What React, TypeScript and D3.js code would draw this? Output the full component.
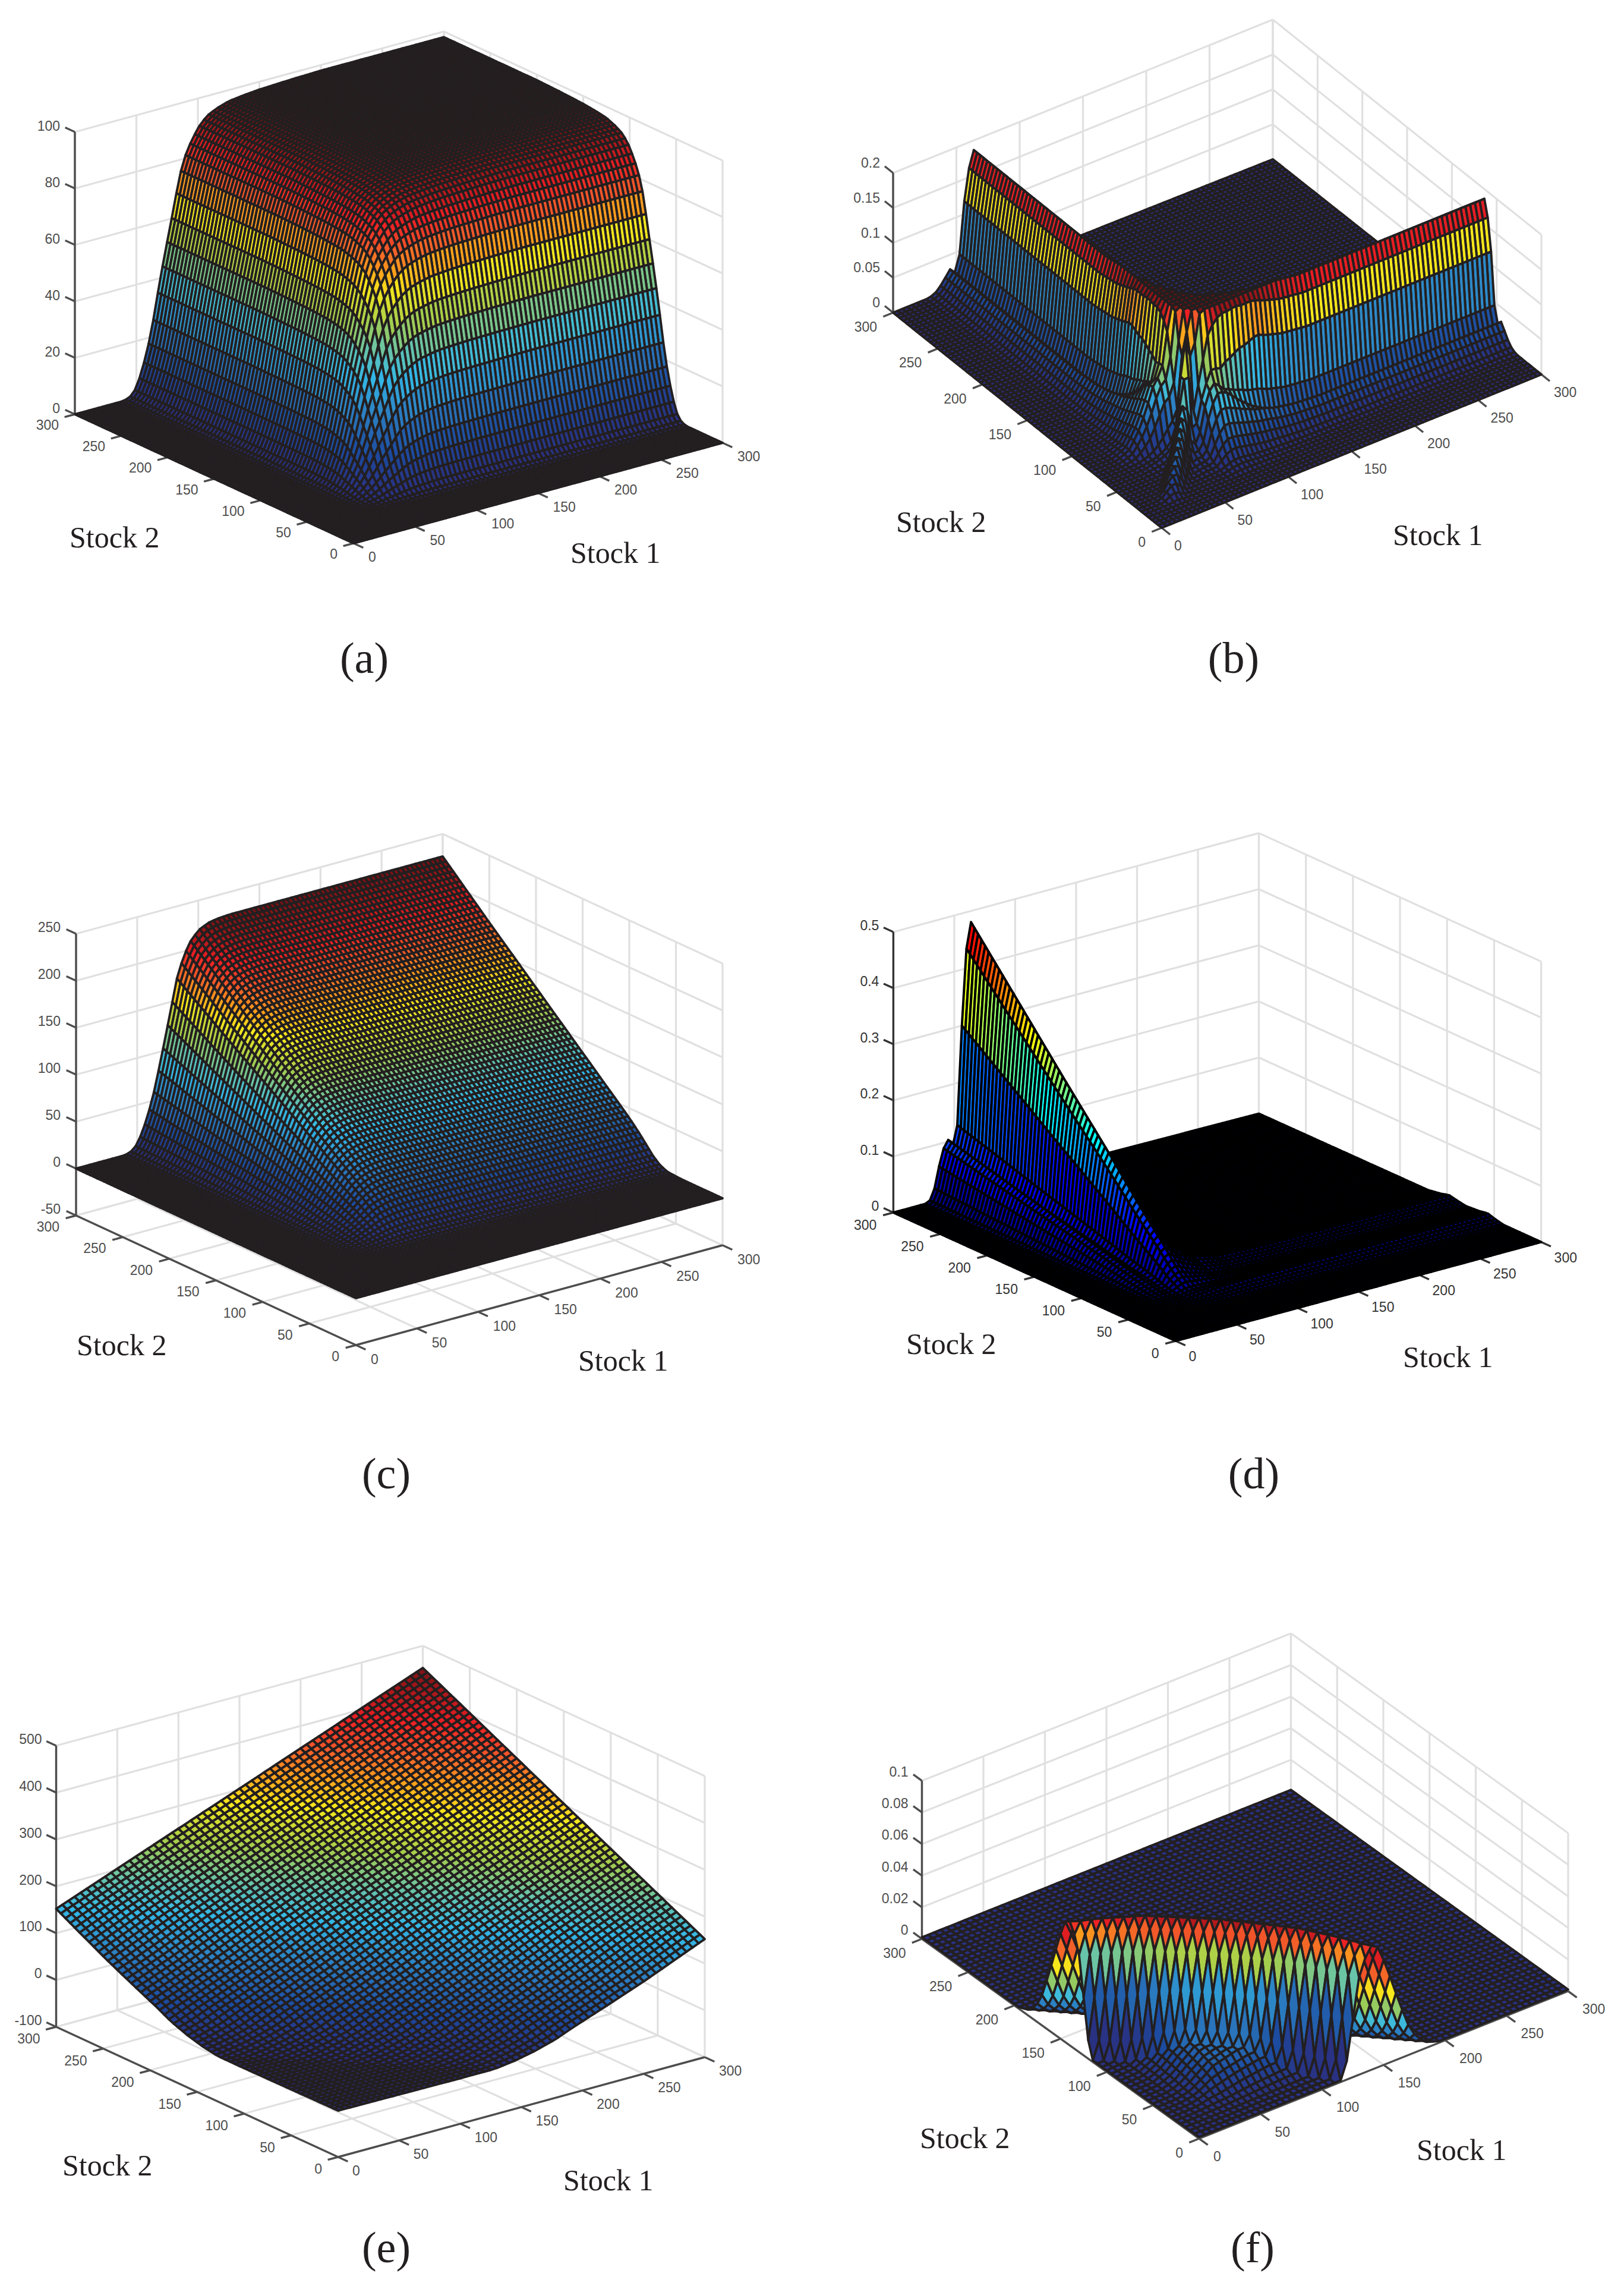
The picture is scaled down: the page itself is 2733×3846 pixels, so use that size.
import React, { useMemo } from "react";
import * as d3 from "d3";

// Surfaces are rebuilt from profiles read off the picture along the mesh edges and ridges.
const stockTicks = [0, 50, 100, 150, 200, 250, 300];
const zTicksA = [0, 20, 40, 60, 80, 100];
const zTicksB = [0, 0.05, 0.1, 0.15, 0.2];
const zTicksC = [-50, 0, 50, 100, 150, 200, 250];
const zTicksD = [0, 0.1, 0.2, 0.3, 0.4, 0.5];
const zTicksE = [-100, 0, 100, 200, 300, 400, 500];
const zTicksF = [0, 0.02, 0.04, 0.06, 0.08, 0.1];

// (a) rise along either stock
const aStock = [0, 38, 42, 46, 49, 52, 55, 58, 62, 66, 70, 74, 78.6, 83, 87, 91, 95.5, 102, 108, 116, 125, 137, 150, 175, 200, 300];
const aRise = [0, 0, 0.003, 0.012, 0.03, 0.06, 0.1, 0.145, 0.22, 0.32, 0.42, 0.51, 0.61, 0.71, 0.79, 0.84, 0.88, 0.925, 0.95, 0.967, 0.98, 0.987, 0.992, 0.997, 1, 1];
const aPeak = 98;

// (b) ridge profile, shoulder profile, ridge shift near the corner, diagonal crease
const bStock = [0, 28, 33, 38, 45, 48.75, 52.5, 56.25, 60, 63.75, 67.5, 72, 80, 90, 105, 120, 140, 300];
const bRidge = [0, 0, 0.003, 0.012, 0.029, 0.022, 0.045, 0.118, 0.163, 0.186, 0.172, 0.15, 0.11, 0.07, 0.03, 0.012, 0.002, 0];
const bShoulderStock = [0, 20, 30, 40, 50, 62, 70, 80, 90, 100, 120, 300];
const bShoulder = [0, 0, 0.05, 0.2, 0.38, 0.53, 0.62, 0.78, 0.9, 0.96, 0.99, 1];
const bShiftStock = [0, 60, 70, 80, 90, 100, 115, 300];
const bShift = [20, 14, 9, 5, 3, 1.5, 0, 0];
const bDiagStock = [0, 20, 29, 40, 51, 58, 61, 64, 75, 83, 90, 105, 115, 300];
const bDiag = [0, 0, 0.02, 0.04, 0.06, 0.08, 0.12, 0.16, 0.165, 0.17, 0.12, 0.02, 0, 0];
const bGap = [0, 4, 8, 12, 300];
const bGapShare = [1, 0.8, 0.3, 0, 0];
const bCap = 0.19;

// (c) steep rise along stock 1, ramp along stock 2
const cStock1 = [0, 40, 44, 48, 52, 57, 62, 65, 70, 74, 78, 83, 88, 93, 100, 108, 116, 125, 300];
const cRise = [0, 0, 0.006, 0.022, 0.06, 0.13, 0.22, 0.29, 0.42, 0.53, 0.64, 0.78, 0.86, 0.92, 0.965, 0.988, 0.996, 1, 1];
const cStock2 = [0, 45, 59, 67, 75, 89, 100, 150, 200, 250, 300];
const cRamp = [0, 0, 0.004, 0.02, 0.05, 0.124, 0.175, 0.38, 0.585, 0.79, 1];
const cPeak = 226;

// (d) main ridge, ramp, small ridge
const dStock1 = [0, 26.25, 30, 33.75, 37.5, 41.25, 45, 48.75, 52.5, 56.25, 60, 63.75, 67.5, 75, 90, 110, 150, 300];
const dRidge = [0, 0, 0.004, 0.023, 0.06, 0.09, 0.103, 0.09, 0.125, 0.3, 0.435, 0.48, 0.42, 0.3, 0.12, 0.03, 0.003, 0];
const dStock2 = [0, 55, 67, 80, 100, 150, 200, 250, 300];
const dRamp = [0, 0, 0.01, 0.055, 0.14, 0.36, 0.57, 0.785, 1];
const dSmallStock = [0, 40, 50, 57, 65, 80, 90, 98, 106, 120, 300];
const dSmall = [0, 0, 0.004, 0.008, 0.005, 0.003, 0.006, 0.009, 0.005, 0.001, 0];
const dGateStock = [0, 40, 60, 80, 100, 300];
const dGate = [0, 0, 0.3, 0.8, 1, 1];

// (e) value against stock 1 + stock 2
const eSum = [0, 50, 100, 128, 145, 161, 178, 194, 220, 250, 300, 450, 600];
const eValue = [-1, -2, -3, -3, 3, 12, 25, 42, 67, 97, 152, 302, 453];

// (f) ridge and dome against stock 1 + stock 2
const fSum = [0, 115, 120, 125, 130, 135, 140, 146, 154, 163, 171, 177, 185, 195, 600];
const fRidge = [0, 0, 0.012, 0.04, 0.068, 0.08, 0.087, 0.084, 0.063, 0.038, 0.018, 0.009, 0.003, 0, 0];
const fDomeSum = [0, 30, 50, 70, 90, 110, 115, 130, 600];
const fDome = [0, 0.0005, 0.002, 0.006, 0.012, 0.016, 0.016, 0, 0];
const fEdgeStock = [0, 15, 25, 35, 45, 300];
const fEdge = [0, 0.05, 0.3, 0.7, 1, 1];
const fArcShare = [0, 0.5, 0.8, 0.93, 1];
const fArc = [1, 0.98, 0.93, 0.9, 0.89];
const fFloor = 0.001;

// colour maps
const printStops = [0, 0.1, 0.21, 0.33, 0.41, 0.51, 0.62, 0.69, 0.77, 0.85, 1];
const printColors = ["#2b2e7e", "#1c4a9e", "#2b7cc0", "#33b8e6", "#63c3b0", "#a3cd4e", "#f7e81b", "#fba31c", "#f1592a", "#ed1f24", "#6d1113"];
const jetStops = [0, 0.125, 0.375, 0.625, 0.875, 1];
const jetColors = ["#00008f", "#0000ff", "#00ffff", "#ffff00", "#ff0000", "#800000"];

const lut = (xs: number[], ys: number[]) => d3.scaleLinear().domain(xs).range(ys).clamp(true);

const aF = lut(aStock, aRise);
const bP = lut(bStock, bRidge);
const bQ = lut(bShoulderStock, bShoulder);
const bD = lut(bShiftStock, bShift);
const bG = lut(bDiagStock, bDiag);
const bN = lut(bGap, bGapShare);
const cF = lut(cStock1, cRise);
const cG = lut(cStock2, cRamp);
const dP = lut(dStock1, dRidge);
const dG = lut(dStock2, dRamp);
const dS = lut(dSmallStock, dSmall);
const dQ = lut(dGateStock, dGate);
const eV = lut(eSum, eValue);
const fW = lut(fSum, fRidge);
const fD = lut(fDomeSum, fDome);
const fE = lut(fEdgeStock, fEdge);
const fA = lut(fArcShare, fArc);

type P = [number, number];
type Cfg = {
  name: string; O: P; R: P; L: P; H: number; zTicks: number[]; N: number;
  z: (a: number, b: number) => number; cMin?: number; cMax: number; jet?: boolean;
  edge: string; ink: string; s1Lab: P; s2Lab: P; zLab: P;
  stock2: P; stock1: P; cap: P;
};

const panels: Cfg[] = [
  { name: "(a)", O: [595, 914], R: [1216, 745], L: [126, 697], H: 475, zTicks: zTicksA, N: 80,
    z: (a, b) => aPeak * aF(a) * aF(b), cMax: 98, edge: "#231f20", ink: "#4d4d4d",
    s1Lab: [25, 23], s2Lab: [-27, 18], zLab: [-25, -10], stock2: [117, 921], stock1: [960, 947], cap: [613, 1132] },
  { name: "(b)", O: [1955, 888], R: [2594, 630], L: [1503, 526], H: 235, zTicks: zTicksB, N: 80,
    z: (a, b) => {
      const ridges = bP(a - bD(b)) * bQ(b) + bP(b - bD(a)) * bQ(a);
      return Math.min(bCap, Math.max(ridges, bG((a + b) / 2) * bN(Math.abs(a - b))));
    }, cMax: 0.19, edge: "#231f20", ink: "#4d4d4d",
    s1Lab: [21, 30], s2Lab: [-27, 24], zLab: [-22, -17], stock2: [1508, 895], stock1: [2344, 917], cap: [2076, 1132] },
  { name: "(c)", O: [599, 2263], R: [1216, 2095], L: [128, 2045], H: 474, zTicks: zTicksC, N: 80,
    z: (a, b) => cPeak * cF(a) * cG(b), cMax: 226, edge: "#231f20", ink: "#4d4d4d",
    s1Lab: [25, 24], s2Lab: [-28, 19], zLab: [-26, -11], stock2: [129, 2280], stock1: [973, 2306], cap: [650, 2504] },
  { name: "(d)", O: [1978.5, 2256], R: [2593.6, 2089.6], L: [1503.4, 2040], H: 472, zTicks: zTicksD, N: 80,
    z: (a, b) => dP(a) * dG(b) + dQ(a) * dS(b), cMax: 0.49, jet: true, edge: "#000000", ink: "#333333",
    s1Lab: [22, 26], s2Lab: [-28, 21], zLab: [-24, -11], stock2: [1525, 2278], stock1: [2361, 2300], cap: [2110, 2504] },
  { name: "(e)", O: [569, 3629], R: [1186, 3461], L: [94.5, 3410], H: 473, zTicks: zTicksE, N: 60,
    z: (a, b) => eV(a + b), cMin: -3, cMax: 453, edge: "#231f20", ink: "#4d4d4d",
    s1Lab: [24, 23], s2Lab: [-27, 20], zLab: [-24, -11], stock2: [105, 3660], stock1: [948, 3685], cap: [650, 3806] },
  { name: "(f)", O: [2018, 3598], R: [2639, 3350], L: [1551.5, 3262], H: 266, zTicks: zTicksF, N: 60,
    z: (a, b) => {
      const sum = a + b;
      const arc = sum > 0 ? fA(Math.abs(a - b) / sum) : 1;
      return fFloor + fW(sum) * arc + fD(sum) * fE(Math.min(a, b));
    }, cMax: 0.088, edge: "#231f20", ink: "#4d4d4d",
    s1Lab: [24, 30], s2Lab: [-27, 24], zLab: [-23, -15], stock2: [1548, 3614], stock1: [2384, 3634], cap: [2108, 3806] },
];

const serif = "'Liberation Serif', 'Times New Roman', serif";
const sans = "'Liberation Sans', Arial, sans-serif";
const wall = "#e0e0e0";

function Panel({ cfg }: { cfg: Cfg }) {
  const { O, R, L, H, zTicks, N, ink } = cfg;
  const sx = d3.scaleLinear().domain([0, 300]).range([0, 1]);
  const zExtent = d3.extent(zTicks) as [number, number];
  const zs = d3.scaleLinear().domain(zExtent).range([0, -H]);
  const proj = (a: number, b: number, z: number): P => [
    O[0] + sx(a) * (R[0] - O[0]) + sx(b) * (L[0] - O[0]),
    O[1] + sx(a) * (R[1] - O[1]) + sx(b) * (L[1] - O[1]) + zs(z),
  ];
  const line = d3.line<P>().x((p) => p[0]).y((p) => p[1]).digits(1);
  const zMin = zExtent[0];
  const zMax = zExtent[1];

  const unit = (v: P): P => { const m = Math.hypot(v[0], v[1]); return [v[0] / m, v[1] / m]; };
  const dirS1 = unit([R[0] - O[0], R[1] - O[1]]);
  const dirS2 = unit([L[0] - O[0], L[1] - O[1]]);
  const tick = 18;

  const color = useMemo(() => {
    const stops = cfg.jet ? jetStops : printStops;
    const cols = cfg.jet ? jetColors : printColors;
    const c0 = cfg.cMin ?? 0;
    return d3.scaleLinear<string>().domain(stops.map((s) => c0 + s * (cfg.cMax - c0))).range(cols).interpolate(d3.interpolateRgb).clamp(true);
  }, [cfg]);

  const quads = useMemo(() => {
    const grid = d3.range(N + 1).map((i) => (i * 300) / N);
    const out: { d: string; fill: string }[] = [];
    for (let i = N - 1; i >= 0; i--) {
      for (let j = N - 1; j >= 0; j--) {
        const a0 = grid[i], a1 = grid[i + 1], b0 = grid[j], b1 = grid[j + 1];
        const z00 = cfg.z(a0, b0);
        const pts: P[] = [proj(a0, b0, z00), proj(a1, b0, cfg.z(a1, b0)), proj(a1, b1, cfg.z(a1, b1)), proj(a0, b1, cfg.z(a0, b1))];
        out.push({ d: line(pts) + "Z", fill: color(z00) });
      }
    }
    return out;
  }, [cfg]);

  const seg = (p: P, q: P, key: string, stroke: string, w = 3.2) => (
    <line key={key} x1={p[0]} y1={p[1]} x2={q[0]} y2={q[1]} stroke={stroke} strokeWidth={w} />
  );

  return (
    <g>
      <g>
        {stockTicks.map((t) => seg(proj(t, 0, zMin), proj(t, 300, zMin), `f1${t}`, wall))}
        {stockTicks.map((t) => seg(proj(0, t, zMin), proj(300, t, zMin), `f2${t}`, wall))}
        {stockTicks.map((t) => seg(proj(t, 300, zMin), proj(t, 300, zMax), `w1${t}`, wall))}
        {stockTicks.map((t) => seg(proj(300, t, zMin), proj(300, t, zMax), `w2${t}`, wall))}
        {zTicks.map((t) => seg(proj(0, 300, t), proj(300, 300, t), `h1${t}`, wall))}
        {zTicks.map((t) => seg(proj(300, 300, t), proj(300, 0, t), `h2${t}`, wall))}
      </g>
      <g>
        {seg(proj(0, 0, zMin), proj(300, 0, zMin), "ax1", ink, 3.4)}
        {seg(proj(0, 0, zMin), proj(0, 300, zMin), "ax2", ink, 3.4)}
        {seg(proj(0, 300, zMin), proj(0, 300, zMax), "ax3", ink, 3.4)}
        {stockTicks.map((t) => {
          const p = proj(t, 0, zMin);
          return seg(p, [p[0] - dirS2[0] * tick, p[1] - dirS2[1] * tick], `t1${t}`, ink, 3.4);
        })}
        {stockTicks.map((t) => {
          const p = proj(0, t, zMin);
          return seg(p, [p[0] - dirS1[0] * tick, p[1] - dirS1[1] * tick], `t2${t}`, ink, 3.4);
        })}
        {zTicks.map((t) => {
          const p = proj(0, 300, t);
          return seg(p, [p[0] + dirS2[0] * tick, p[1] + dirS2[1] * tick], `t3${t}`, ink, 3.4);
        })}
      </g>
      <g stroke={cfg.edge} strokeWidth={3.9} strokeLinejoin="round">
        {quads.map((q, k) => <path key={k} d={q.d} fill={q.fill} />)}
      </g>
      <g fontFamily={sans} fontSize={23} fill={ink}>
        {stockTicks.map((t) => {
          const p = proj(t, 0, zMin);
          return <text key={`l1${t}`} x={p[0] + cfg.s1Lab[0]} y={p[1] + cfg.s1Lab[1]} dy="0.35em">{t}</text>;
        })}
        {stockTicks.map((t) => {
          const p = proj(0, t, zMin);
          return <text key={`l2${t}`} x={p[0] + cfg.s2Lab[0]} y={p[1] + cfg.s2Lab[1]} dy="0.35em" textAnchor="end">{t}</text>;
        })}
        {zTicks.map((t) => {
          const p = proj(0, 300, t);
          return <text key={`l3${t}`} x={p[0] + cfg.zLab[0]} y={p[1] + cfg.zLab[1]} dy="0.35em" textAnchor="end">{t}</text>;
        })}
      </g>
      <g fontFamily={serif} fill="#231f20">
        <text x={cfg.stock2[0]} y={cfg.stock2[1]} fontSize={50}>Stock 2</text>
        <text x={cfg.stock1[0]} y={cfg.stock1[1]} fontSize={50}>Stock 1</text>
        <text x={cfg.cap[0]} y={cfg.cap[1]} fontSize={74} textAnchor="middle">{cfg.name}</text>
      </g>
    </g>
  );
}

export default function App() {
  return (
    <svg width={2733} height={3846} viewBox="0 0 2733 3846" style={{ position: "absolute", left: 0, top: 0, display: "block", background: "#fff" }}>
      {panels.map((p) => <Panel key={p.name} cfg={p} />)}
    </svg>
  );
}
